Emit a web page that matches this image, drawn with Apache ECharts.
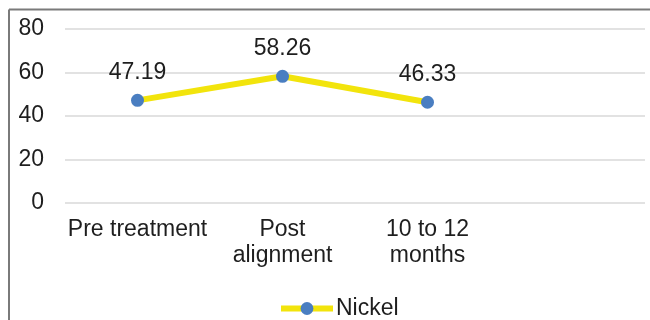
<!DOCTYPE html>
<html>
<head>
<meta charset="utf-8">
<script src="https://cdn.jsdelivr.net/npm/echarts@6/dist/echarts.min.js"></script>
<style>
  html, body { margin: 0; padding: 0; background: #fff; }
  #chart { width: 650px; height: 320px; }
</style>
</head>
<body>
<div id="chart"></div>
<script>
// Nickel level at each stage of treatment
const categories = ['Pre treatment', 'Post\nalignment', '10 to 12\nmonths', ''];
const nickel = [47.19, 58.26, 46.33];
const yTicks = { min: 0, max: 80, interval: 20 };

const FONT = 'Liberation Sans, Arial, sans-serif';
const chart = echarts.init(document.getElementById('chart'), null, { renderer: 'canvas' });

chart.setOption({
  animation: false,
  backgroundColor: '#ffffff',
  graphic: [
    // frame around the figure (left and top edges visible)
    { type: 'line', shape: { x1: 9, y1: 9.5, x2: 650, y2: 9.5 }, style: { stroke: '#7a7a7a', lineWidth: 2 } },
    { type: 'line', shape: { x1: 9, y1: 9.5, x2: 9, y2: 320 }, style: { stroke: '#7a7a7a', lineWidth: 2 } }
  ],
  grid: { left: 65, right: 5, top: 29, bottom: 117, containLabel: false },
  legend: {
    data: ['Nickel'],
    left: 273,
    top: 292,
    itemWidth: 52,
    itemHeight: 16,
    itemGap: 3,
    lineStyle: { width: 6 },
    textStyle: { fontFamily: FONT, fontSize: 23, color: '#1e1e1e', padding: [0, 0, 0, -2] }
  },
  xAxis: {
    type: 'category',
    data: categories,
    boundaryGap: true,
    axisLine: { show: false },
    axisTick: { show: false },
    axisLabel: {
      interval: 0,
      margin: 14,
      fontFamily: FONT,
      fontSize: 23,
      lineHeight: 26,
      color: '#1e1e1e'
    }
  },
  yAxis: {
    type: 'value',
    min: yTicks.min,
    max: yTicks.max,
    interval: yTicks.interval,
    axisLine: { show: false },
    axisTick: { show: false },
    axisLabel: { margin: 21, fontFamily: FONT, fontSize: 23, color: '#1e1e1e' },
    splitLine: { lineStyle: { color: '#d9d9d9', width: 1.5 } }
  },
  series: [{
    name: 'Nickel',
    type: 'line',
    data: nickel,
    symbol: 'circle',
    symbolSize: 13,
    itemStyle: { color: '#4a7ec1' },
    lineStyle: { color: '#f2e40c', width: 6 },
    label: {
      show: true,
      position: 'top',
      distance: 10,
      fontFamily: FONT,
      fontSize: 23,
      color: '#1e1e1e',
      formatter: p => p.value.toFixed(2)
    }
  }]
});
</script>
</body>
</html>
